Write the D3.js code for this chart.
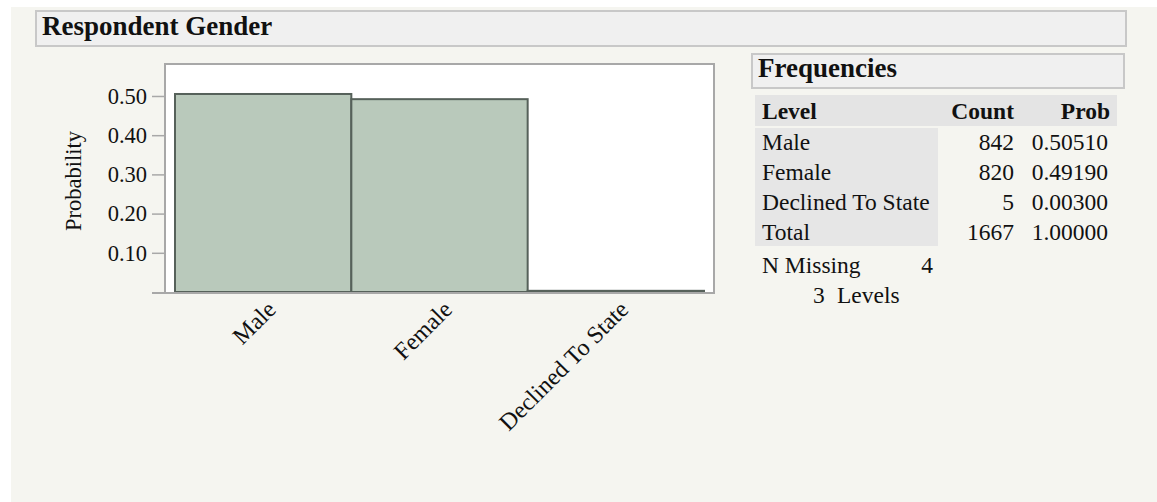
<!DOCTYPE html>
<html>
<head>
<meta charset="utf-8">
<script src="https://cdn.jsdelivr.net/npm/d3@7"></script>
<style>
  body { margin: 0; background: #ffffff; }
  svg text { font-family: "Liberation Serif", "Times New Roman", serif; fill: #111; }
</style>
</head>
<body>
<div id="chart"></div>
<script>
// data
var levels = ['Male', 'Female', 'Declined To State']
var counts = [842, 820, 5]
var probs = [0.50510, 0.49190, 0.00300]
var totalCount = 1667
var totalProb = 1.00000
var yTicks = [0.1, 0.2, 0.3, 0.4, 0.5]
var nMissing = 4

var width = 1157
var height = 502
var tableFont = 23.5

var svg = d3.select('#chart').append('svg')
    .attr('width', width)
    .attr('height', height)

// panel background
svg.append('rect')
    .attr('x', 11).attr('y', 7)
    .attr('width', width - 11).attr('height', 495)
    .attr('fill', '#f5f5f0')

// outline title box
svg.append('rect')
    .attr('x', 36).attr('y', 11)
    .attr('width', 1090).attr('height', 35)
    .attr('fill', '#f0f0f0')
    .attr('stroke', '#c8c8c8')
    .attr('stroke-width', 2)

svg.append('text')
    .attr('x', 42).attr('y', 35)
    .attr('font-size', 27)
    .attr('font-weight', 'bold')
    .text('Respondent Gender')

// chart
var frame = { left: 165, right: 714, top: 64, bottom: 293 }

var x = d3.scaleBand()
    .domain(levels)
    .range([175, 704])
    .padding(0)

var y = d3.scaleLinear()
    .domain([0, 0.5816])
    .range([292, frame.top])

svg.append('rect')
    .attr('x', frame.left).attr('y', frame.top)
    .attr('width', frame.right - frame.left)
    .attr('height', frame.bottom - frame.top)
    .attr('fill', '#ffffff')
    .attr('stroke', '#a8a8a8')
    .attr('stroke-width', 2)

svg.selectAll('.bar')
    .data(probs)
    .enter()
    .append('rect')
    .attr('class', 'bar')
    .attr('x', function(d, i) { return x(levels[i]) })
    .attr('y', function(d) { return y(d) })
    .attr('width', x.bandwidth())
    .attr('height', function(d) { return y(0) - y(d) })
    .attr('fill', '#b9c9bb')
    .attr('stroke', '#56615a')
    .attr('stroke-width', 2)

// bottom axis line
svg.append('line')
    .attr('x1', 152).attr('x2', frame.right + 1)
    .attr('y1', frame.bottom).attr('y2', frame.bottom)
    .attr('stroke', '#a8a8a8')
    .attr('stroke-width', 2)

var yAxis = svg.append('g')
    .attr('transform', 'translate(' + (frame.left - 1) + ',0)')
    .call(d3.axisLeft(y).tickValues(yTicks).tickFormat(d3.format('.2f')).tickSize(12).tickPadding(5))
yAxis.select('.domain').remove()
yAxis.selectAll('.tick line').attr('stroke', '#a8a8a8').attr('stroke-width', 1.5)
yAxis.selectAll('.tick text')
    .attr('font-family', '"Liberation Serif", "Times New Roman", serif')
    .attr('font-size', 22.5)
    .attr('fill', '#111')

svg.append('text')
    .attr('transform', 'translate(81,181) rotate(-90)')
    .attr('text-anchor', 'middle')
    .attr('font-size', 22.5)
    .text('Probability')

svg.selectAll('.xlab')
    .data(levels)
    .enter()
    .append('text')
    .attr('class', 'xlab')
    .attr('text-anchor', 'end')
    .attr('font-size', 24)
    .attr('transform', function(d) {
        return 'translate(' + (x(d) + x.bandwidth() / 2 + 14) + ',311) rotate(-45)'
    })
    .text(function(d) { return d })

// frequencies outline box
svg.append('rect')
    .attr('x', 752).attr('y', 54)
    .attr('width', 372).attr('height', 34)
    .attr('fill', '#f0f0f0')
    .attr('stroke', '#c8c8c8')
    .attr('stroke-width', 2)

svg.append('text')
    .attr('x', 758).attr('y', 77)
    .attr('font-size', 27)
    .attr('font-weight', 'bold')
    .text('Frequencies')

// table
var rowY = [150, 180, 210, 240]
var rows = levels.map(function(d, i) {
    return { level: d, count: counts[i], prob: probs[i] }
})
rows.push({ level: 'Total', count: totalCount, prob: totalProb })

svg.append('rect')
    .attr('x', 755).attr('y', 95)
    .attr('width', 362).attr('height', 31)
    .attr('fill', '#e4e4e4')

svg.append('rect')
    .attr('x', 755).attr('y', 128)
    .attr('width', 183).attr('height', 118)
    .attr('fill', '#e6e6e6')

var head = svg.append('g').attr('font-size', tableFont).attr('font-weight', 'bold')
head.append('text').attr('x', 762).attr('y', 119).text('Level')
head.append('text').attr('x', 1014).attr('y', 119).attr('text-anchor', 'end').text('Count')
head.append('text').attr('x', 1110).attr('y', 119).attr('text-anchor', 'end').text('Prob')

var rowG = svg.selectAll('.row')
    .data(rows)
    .enter()
    .append('g')
    .attr('class', 'row')
    .attr('font-size', tableFont)
    .attr('transform', function(d, i) { return 'translate(0,' + rowY[i] + ')' })

rowG.append('text').attr('x', 762).text(function(d) { return d.level })
rowG.append('text').attr('x', 1014).attr('text-anchor', 'end').text(function(d) { return d.count })
rowG.append('text').attr('x', 1108).attr('text-anchor', 'end').text(function(d) { return d.prob.toFixed(5) })

svg.append('text').attr('x', 762).attr('y', 273).attr('font-size', tableFont).text('N Missing')
svg.append('text').attr('x', 933).attr('y', 273).attr('font-size', tableFont).attr('text-anchor', 'end').text(nMissing)
svg.append('text').attr('x', 813).attr('y', 303).attr('font-size', tableFont).text(levels.length)
svg.append('text').attr('x', 837).attr('y', 303).attr('font-size', tableFont).text('Levels')
</script>
</body>
</html>
